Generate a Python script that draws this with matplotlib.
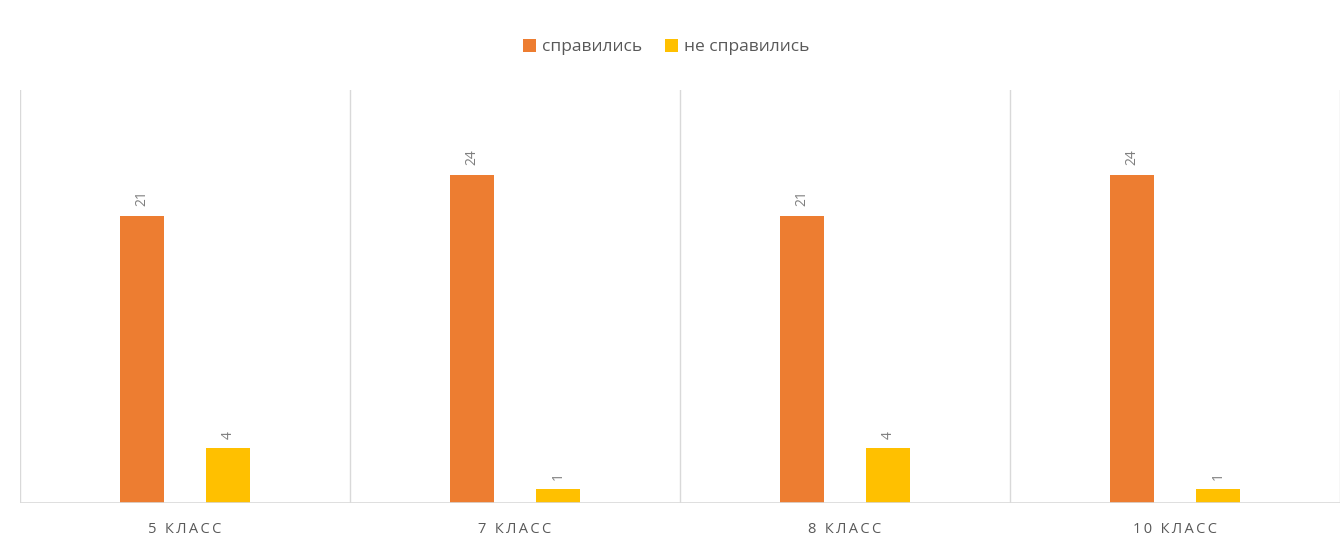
import matplotlib
matplotlib.use("Agg")
import matplotlib.pyplot as plt
from matplotlib.patches import Patch
import numpy as np

plt.rcParams['font.family'] = ['Open Sans', 'DejaVu Sans']

categories = ["5 класс", "7 класс", "8 класс", "10 класс"]
passed = [21, 24, 21, 24]
failed = [4, 1, 4, 1]
series_names = ["справились", "не справились"]
colors = ["#ED7D31", "#FFC000"]

fig = plt.figure(figsize=(13.43, 5.40), dpi=100)
W, H = 1343, 540
left, right, bottom, top = 20, 1340, 503, 90
ax = fig.add_axes([left / W, 1 - bottom / H, (right - left) / W, (bottom - top) / H])

x = np.arange(len(categories))
bw = 0.134
off = 0.13
grid_col = "#D9D9D9"
txt_col = "#595959"

for vals, dx, col in ((passed, -off, colors[0]), (failed, off, colors[1])):
    bars = ax.bar(x + dx, vals, width=bw, color=col, zorder=3)
    for b, v in zip(bars, vals):
        ax.annotate(str(v), (b.get_x() + b.get_width() / 2, v),
                    xytext=(0, 7), textcoords="offset points",
                    rotation=90, ha="center", va="bottom",
                    fontsize=10, color="#7F7F7F")

ax.set_xlim(-0.5, len(categories) - 0.5)
ax.set_ylim(0, 30.2)

for b in np.arange(-0.5, len(categories), 1.0):
    ax.axvline(b, color=grid_col, lw=1, zorder=1)
ax.axhline(0, color=grid_col, lw=1.2, zorder=4)

for s in ax.spines.values():
    s.set_visible(False)
ax.set_yticks([])
ax.set_xticks(x)
ax.set_xticklabels(["\u2009".join(c.upper()) for c in categories],
                   fontsize=10.5, color=txt_col)
ax.tick_params(axis="x", length=0, pad=14)

handles = [Patch(facecolor=c, edgecolor="none") for c in colors]
fig.legend(handles, series_names, loc="center", bbox_to_anchor=(0.496, 1 - 47 / H),
           ncol=2, frameon=False, fontsize=12.5, labelcolor=txt_col,
           handlelength=0.75, handleheight=0.75, handletextpad=0.35, columnspacing=1.3)

fig.savefig("out.png", dpi=100)
